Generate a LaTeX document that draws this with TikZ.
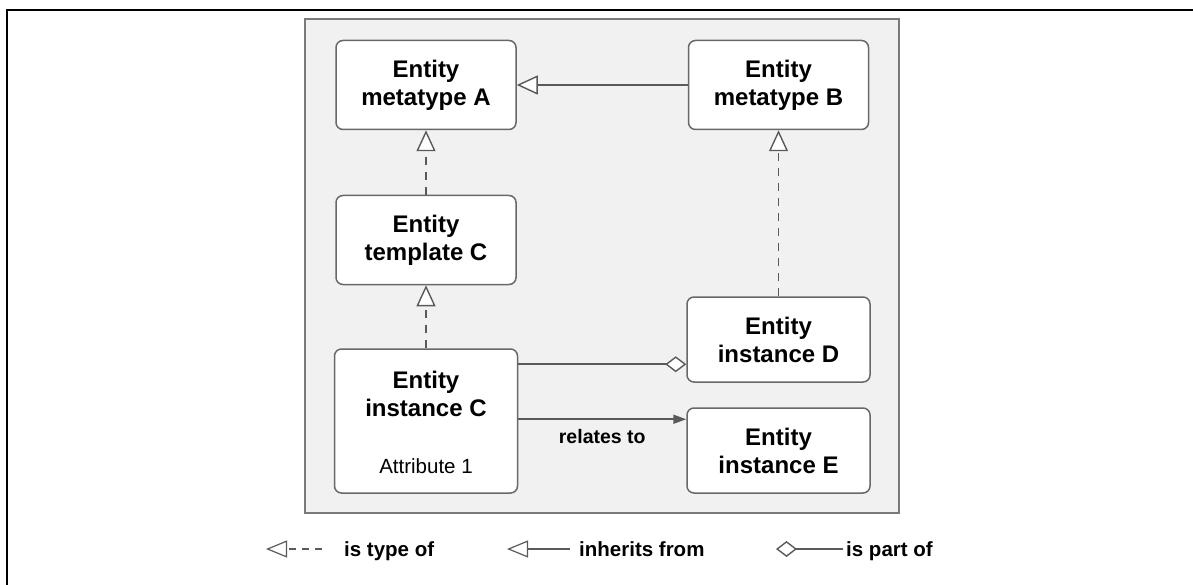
\documentclass[tikz,border=0pt]{standalone}
\usepackage{fontspec}
\setmainfont{Liberation Sans}
\usetikzlibrary{arrows.meta}
\definecolor{panelfill}{HTML}{F1F1F1}
\definecolor{panelline}{HTML}{7A7A7A}
\definecolor{boxline}{HTML}{686868}
\definecolor{linkcol}{HTML}{5A5A5A}
\begin{document}
\begin{tikzpicture}[x=1pt,y=-1pt,
  entity/.style={draw=boxline, line width=1.5pt, fill=white, rounded corners=7pt,
    align=center, inner sep=0pt, minimum width=180pt, minimum height=89pt,
    font=\fontsize{24}{28}\selectfont\bfseries},
  boxtext/.style={inner sep=0pt, align=center},
  typeof/.style={draw=linkcol, line width=1.8pt, dash pattern=on 8pt off 7pt,
    -{Triangle[open, length=21pt, width=19pt, line width=1.4pt, fill=white]}},
  inherits/.style={draw=linkcol, line width=1.8pt,
    -{Triangle[open, length=21pt, width=19pt, line width=1.4pt, fill=white]}},
  partof/.style={draw=linkcol, line width=1.8pt,
    -{Diamond[open, length=21pt, width=16pt, line width=1.4pt, fill=white]}},
  relates/.style={draw=linkcol, line width=1.8pt,
    -{Triangle[length=13pt, width=9pt, fill=linkcol]}},
  legendtext/.style={anchor=base west, inner sep=0pt, font=\fontsize{20.5}{24}\selectfont\bfseries},
]
% page extent
\useasboundingbox (0,0) rectangle (1193,585);
\fill[white] (0,0) rectangle (1193,585);

% outer frame (top and left edges)
\draw[line width=2pt, black] (7,585) -- (7,10) -- (1193,10);

% grey panel
\draw[draw=panelline, fill=panelfill, line width=1.5pt] (305,19) rectangle (899,513);

% entity boxes
\node[entity] (A) at (426,85) {Entity\\metatype A};
\node[entity] (B) at (778.5,85) {Entity\\metatype B};
\node[entity] (T) at (426,240) {Entity\\template C};
\node[entity, minimum width=183pt, minimum height=144pt] (C) at (426,421) {};
\node[boxtext, font=\fontsize{24}{28}\selectfont\bfseries] (Cname) at (426,394) {Entity\\instance C};
\node[boxtext, font=\fontsize{20.5}{24}\selectfont] (Cattr) at (426,466) {Attribute 1};
\node[entity, minimum width=183pt, minimum height=85pt] (D) at (778.5,339.5) {Entity\\instance D};
\node[entity, minimum width=183pt, minimum height=85pt] (E) at (778.5,450.5) {Entity\\instance E};

% relations
\draw[inherits] (B.west) -- (A.east);
\draw[typeof] (T.north) -- (A.south);
\draw[typeof] (C.north) -- (T.south);
\draw[typeof] (D.north) -- (B.south);
\coordinate (cd) at ([yshift=-16pt]C.north east);
\draw[partof] (cd) -- (cd -| D.west);
\coordinate (ce) at ([yshift=-71pt]C.north east);
\draw[relates] (ce) -- (ce -| E.west)
  node[midway, yshift=-17pt, inner sep=0pt, font=\fontsize{19.5}{22}\selectfont\bfseries] (rel) {relates to};

% legend
\coordinate (l1a) at (322,549);
\coordinate (l1b) at (266,549);
\draw[typeof, dash pattern=on 7pt off 6pt, -{Triangle[open, length=21pt, width=17pt, line width=1.2pt, fill=white]}] (l1a) -- (l1b);
\node[legendtext] (t1) at (344,556) {is type of};
\coordinate (l2a) at (570,549);
\coordinate (l2b) at (507,549);
\draw[inherits, -{Triangle[open, length=21pt, width=17pt, line width=1.2pt, fill=white]}] (l2a) -- (l2b);
\node[legendtext] (t2) at (579,556) {inherits from};
\coordinate (l3a) at (843,549);
\coordinate (l3b) at (776,549);
\draw[partof] (l3a) -- (l3b);
\node[legendtext] (t3) at (846,556) {is part of};
\end{tikzpicture}
\end{document}
